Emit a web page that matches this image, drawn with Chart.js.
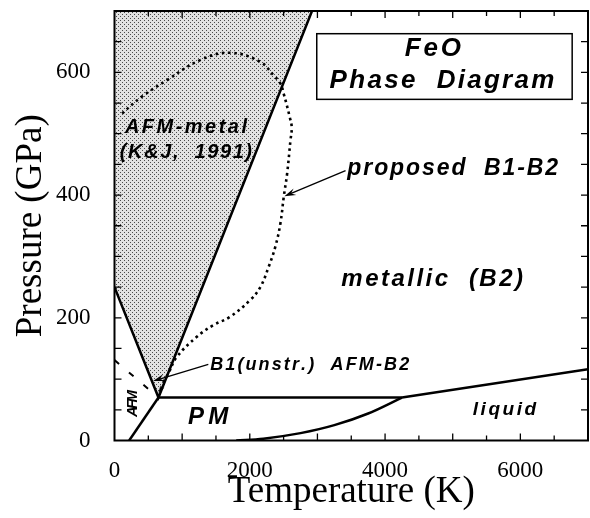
<!DOCTYPE html>
<html>
<head>
<meta charset="utf-8">
<script src="https://cdn.jsdelivr.net/npm/chart.js@4.4.0/dist/chart.umd.min.js"></script>
<style>
  html, body { margin: 0; padding: 0; background: #fff; }
</style>
</head>
<body>
<canvas id="phase" width="590" height="518"></canvas>
<script>
// FeO phase diagram: temperature in K, pressure in GPa
const xTickValues = [0, 2000, 4000, 6000];
const yTickValues = [0, 200, 400, 600];

// AFM-metal region (K&J 1991), shaded up to the top of the plot
const afmMetalT = [0, 650, 2920];
const afmMetalP = [250, 70, 700];

// AFM / PM boundary below the triple point
const pmLowT = [217, 650];
const pmLowP = [0, 70];

// flat boundary between PM and AFM-B2
const flatT = [650, 4250];
const flatP = [70, 70];

// melting line above 4250 K
const meltHighT = [4250, 7000];
const meltHighP = [70, 116];

// melting curve at low pressure
const meltLowT = [1800, 2200, 2750, 3250, 3750, 4250];
const meltLowP = [0, 3, 12, 25, 44, 70];

// proposed B1-B2 transition (dotted)
const proposedT = [720, 795, 920, 1217, 1460, 1700, 2007, 2156, 2279, 2378, 2453, 2502, 2552, 2601, 2620, 2591, 2502, 2452, 2353, 2156, 1712, 1266, 771, 400, 80];
const proposedP = [95, 109, 136, 169, 188, 201, 229, 250, 283, 316, 354, 397, 435, 489, 510, 527, 565, 582, 595, 617, 632, 620, 587, 560, 530];

// AFM boundary (dashed, mostly hidden)
const afmDashT = [0, 650];
const afmDashP = [131, 70];

const pts = (ts, ps) => ts.map((t, i) => ({ x: t, y: ps[i] }));

// stipple pattern for the shaded region
function stipple() {
    const c = document.createElement('canvas');
    c.width = 4; c.height = 4;
    const g = c.getContext('2d');
    g.fillStyle = '#e2e2e2';
    g.fillRect(0, 0, 4, 4);
    g.fillStyle = '#4a4a4a';
    g.fillRect(0, 0, 1, 1);
    g.fillRect(2, 2, 1, 1);
    return g.createPattern(c, 'repeat');
}

function spreadText(ctx, text, x0, x1, y, size) {
    ctx.font = 'italic bold ' + size + 'px "Liberation Sans", Arial, sans-serif';
    const chars = [...text];
    const widths = chars.map(c => ctx.measureText(c).width);
    const total = widths.reduce((a, b) => a + b, 0);
    const gap = chars.length > 1 ? (x1 - x0 - total) / (chars.length - 1) : 0;
    let x = x0;
    chars.forEach((c, i) => {
        ctx.fillText(c, x, y);
        x += widths[i] + gap;
    });
}

function arrow(ctx, x0, y0, x1, y1, len) {
    const a = Math.atan2(y1 - y0, x1 - x0);
    const w = 0.3;
    ctx.beginPath();
    ctx.moveTo(x0, y0);
    ctx.lineTo(x1 - Math.cos(a) * len * 0.5, y1 - Math.sin(a) * len * 0.5);
    ctx.lineWidth = 1.3;
    ctx.stroke();
    ctx.beginPath();
    ctx.moveTo(x1, y1);
    ctx.lineTo(x1 - len * Math.cos(a - w), y1 - len * Math.sin(a - w));
    ctx.lineTo(x1 - 0.6 * len * Math.cos(a), y1 - 0.6 * len * Math.sin(a));
    ctx.lineTo(x1 - len * Math.cos(a + w), y1 - len * Math.sin(a + w));
    ctx.closePath();
    ctx.fill();
}

// labels: text, T from..to, baseline P, font size
const notes = [
    ['FeO', 4292, 5122, 626, 26],
    ['Phase  Diagram', 3180, 6503, 574, 26],
    ['proposed  B1-B2', 3442, 6558, 432, 23],
    ['AFM-metal', 154, 1958, 501, 20],
    ['(K&J,  1991)', 79, 2033, 460, 20],
    ['metallic  (B2)', 3353, 6039, 252, 24],
    ['B1(unstr.)  AFM-B2', 1414, 4356, 115, 18],
    ['PM', 1088, 1681, 27, 24],
    ['liquid', 5297, 6233, 42, 19]
];

const framePlugin = {
    id: 'frameAndNotes',
    afterDatasetsDraw(chart) {
        const { ctx, chartArea: a, scales: { x, y } } = chart;
        ctx.save();
        ctx.strokeStyle = '#000';
        ctx.fillStyle = '#000';

        // frame
        ctx.lineWidth = 2;
        ctx.strokeRect(a.left, a.top, a.right - a.left, a.bottom - a.top);

        // inward ticks
        ctx.lineWidth = 1.3;
        ctx.beginPath();
        for (let t = 500; t < 7000; t += 500) {
            const px = x.getPixelForValue(t);
            const l = t % 1000 === 0 ? 7 : 5;
            ctx.moveTo(px, a.bottom); ctx.lineTo(px, a.bottom - l);
            ctx.moveTo(px, a.top); ctx.lineTo(px, a.top + l);
        }
        for (let p = 50; p < 700; p += 50) {
            const py = y.getPixelForValue(p);
            ctx.moveTo(a.left, py); ctx.lineTo(a.left + 7, py);
            ctx.moveTo(a.right, py); ctx.lineTo(a.right - 7, py);
        }
        ctx.stroke();

        // title box
        const bx0 = x.getPixelForValue(2990), bx1 = x.getPixelForValue(6766);
        const by0 = y.getPixelForValue(663), by1 = y.getPixelForValue(556);
        ctx.lineWidth = 1.5;
        ctx.strokeRect(bx0, by0, bx1 - bx0, by1 - by0);

        // labels
        ctx.textBaseline = 'alphabetic';
        ctx.textAlign = 'left';
        notes.forEach(([txt, t0, t1, p, size]) => {
            spreadText(ctx, txt, x.getPixelForValue(t0), x.getPixelForValue(t1), y.getPixelForValue(p), size);
        });

        // rotated AFM
        ctx.save();
        ctx.translate(x.getPixelForValue(271), y.getPixelForValue(61));
        ctx.rotate(-Math.PI / 2);
        ctx.textBaseline = 'middle';
        spreadText(ctx, 'AFM', -14, 13, 0, 15);
        ctx.restore();

        // arrows
        arrow(ctx, x.getPixelForValue(3416), y.getPixelForValue(440), x.getPixelForValue(2512), y.getPixelForValue(398), 12);
        arrow(ctx, x.getPixelForValue(1387), y.getPixelForValue(124), x.getPixelForValue(570), y.getPixelForValue(97), 12);
        arrow(ctx, x.getPixelForValue(740), y.getPixelForValue(94), x.getPixelForValue(650), y.getPixelForValue(78), 8);

        ctx.restore();
    }
};

const solid = (data) => ({
    data: data,
    showLine: true,
    borderColor: '#000',
    borderWidth: 2.5,
    pointRadius: 0,
    fill: false,
    order: 0
});

// drawn first (higher order), so every line sits on top of the stipple
const shaded = solid(pts(afmMetalT, afmMetalP));
shaded.fill = 'end';
shaded.backgroundColor = stipple();
shaded.order = 1;

const melt = solid(pts(meltLowT, meltLowP));
melt.cubicInterpolationMode = 'monotone';

const proposed = solid(pts(proposedT, proposedP));
proposed.borderWidth = 2.6;
proposed.borderDash = [2.6, 3.6];
proposed.tension = 0.4;

const afmDash = solid(pts(afmDashT, afmDashP));
afmDash.borderWidth = 2;
afmDash.borderDash = [6, 13];

const serif = '"Liberation Serif", "Times New Roman", serif';

new Chart(document.getElementById('phase'), {
    type: 'scatter',
    data: {
        datasets: [
            shaded,
            solid(pts(pmLowT, pmLowP)),
            solid(pts(flatT, flatP)),
            solid(pts(meltHighT, meltHighP)),
            melt,
            proposed,
            afmDash
        ]
    },
    options: {
        responsive: false,
        animation: false,
        devicePixelRatio: 1,
        layout: { padding: { top: 11, right: 2, left: 0, bottom: 0 } },
        plugins: {
            legend: { display: false },
            tooltip: { enabled: false }
        },
        scales: {
            x: {
                type: 'linear',
                min: 0,
                max: 7000,
                grid: { display: false },
                border: { display: false },
                afterBuildTicks: s => { s.ticks = xTickValues.map(v => ({ value: v })); },
                afterFit: s => {
                    s.height = 77.5;
                    s.paddingLeft = 0; s.paddingRight = 0;
                },
                ticks: {
                    color: '#000',
                    padding: 9,
                    callback: v => String(v),
                    font: { family: serif, size: 23 }
                },
                title: {
                    display: true,
                    text: 'Temperature (K)',
                    color: '#000',
                    padding: { top: 0, bottom: 4 },
                    font: { family: serif, size: 37 }
                }
            },
            y: {
                type: 'linear',
                min: 0,
                max: 700,
                grid: { display: false },
                border: { display: false },
                afterBuildTicks: s => { s.ticks = yTickValues.map(v => ({ value: v })); },
                afterFit: s => {
                    s.width = 114.5;
                    s.paddingTop = 0; s.paddingBottom = 0;
                },
                ticks: {
                    color: '#000',
                    padding: 16,
                    callback: v => String(v),
                    font: { family: serif, size: 23 }
                },
                title: {
                    display: true,
                    text: 'Pressure (GPa)',
                    color: '#000',
                    padding: { top: 9, bottom: 0 },
                    font: { family: serif, size: 37 }
                }
            }
        }
    },
    plugins: [framePlugin]
});
</script>
</body>
</html>
